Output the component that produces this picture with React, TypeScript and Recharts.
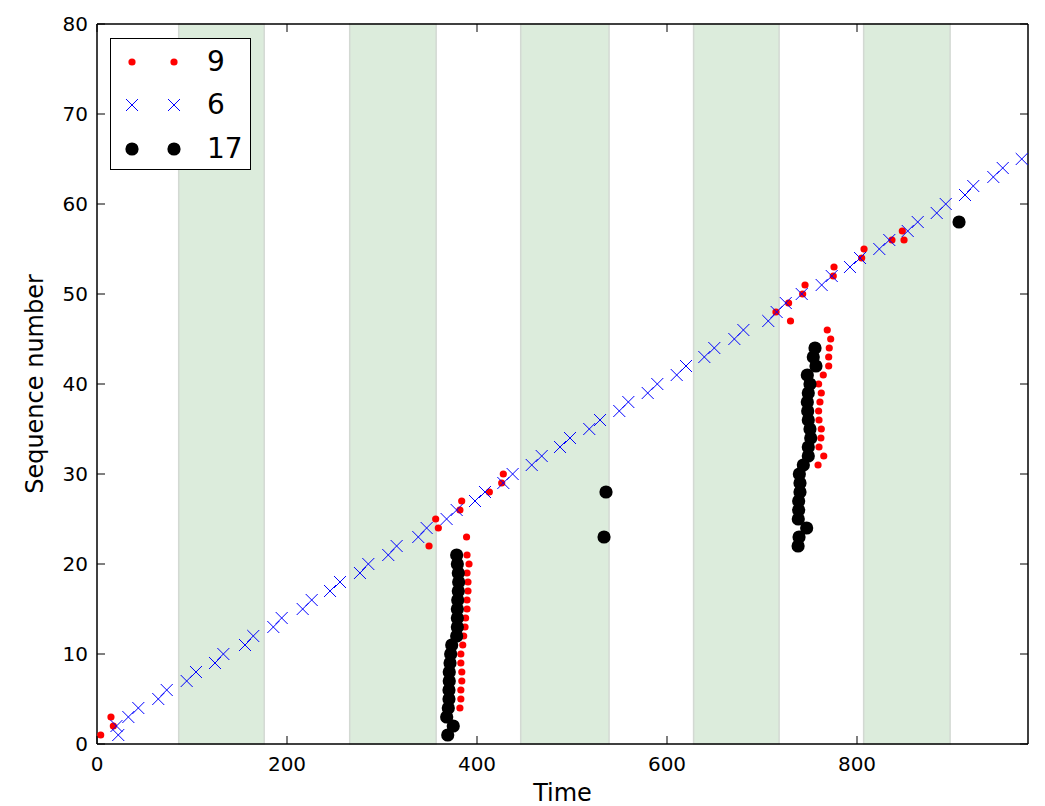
import React from 'react';
import { ScatterChart, Scatter, XAxis, YAxis, ReferenceArea, Legend } from 'recharts';

// shaded time windows (start, end)
const bands: [number, number][] = [
  [86, 176], [266, 357], [446, 539], [628, 718], [807, 898],
];

const xTicks = [0, 200, 400, 600, 800];
const yTicks = [0, 10, 20, 30, 40, 50, 60, 70, 80];

// flow "9" (red dots): [time, sequence]
const flow9: [number, number][] = [
  [3.9, 1], [14.7, 3], [17.2, 2],
  [349.5, 22], [359.3, 24], [356.5, 25], [382, 26], [383.9, 27], [413, 28], [426, 29], [427.7, 30],
  [389, 23], [389.5, 21], [391.6, 20], [389.5, 19], [390.5, 18], [390.5, 17], [389.5, 16], [389.5, 15],
  [388, 14], [387.4, 13], [386, 12], [385, 11], [383, 10], [383, 9], [384, 8], [384, 7], [383, 6],
  [383, 5], [382, 4],
  [768.7, 46], [772.3, 45], [770.8, 44], [770.2, 43], [770.2, 42], [764.5, 41], [759.6, 40], [762.4, 39],
  [761, 38], [759.6, 37], [760, 36], [762.4, 35], [762, 34], [760, 33], [765, 32], [759, 31],
  [714.7, 48], [730, 47], [728, 49], [742.8, 50], [745.3, 51], [775, 52], [775.8, 53], [804.9, 54],
  [807.4, 55], [836.8, 56], [847.7, 57], [849.5, 56],
];

// flow "6" (blue crosses)
const flow6: [number, number][] = [
  [22.4, 1], [20.5, 2], [33, 3], [43.5, 4], [64.5, 5], [73.4, 6], [94.4, 7], [104.2, 8],
  [124.2, 9], [133, 10], [155.8, 11], [164.5, 12], [185.6, 13], [194.4, 14], [216.5, 15], [226, 16],
  [245.3, 17], [255.8, 18], [276.8, 19], [285.6, 20], [306.6, 21], [315.4, 22], [338.2, 23], [347, 24],
  [368, 25], [378.6, 26], [397.9, 27], [408.4, 28], [427.7, 29], [437.5, 30], [457.6, 31], [468.1, 32],
  [487.4, 33], [497.9, 34], [518.2, 35], [529.5, 36], [549.8, 37], [559.3, 38], [579.7, 39], [589.8, 40],
  [610.2, 41], [620, 42], [639.3, 43], [649.8, 44], [670.9, 45], [680.4, 46], [706.6, 47], [715.4, 48],
  [725, 49], [741.8, 50], [762.8, 51], [773.4, 52], [792.6, 53], [803.2, 54], [823.5, 55], [834, 56],
  [853.4, 57], [863.9, 58], [883.9, 59], [893.4, 60], [913.7, 61], [922.4, 62], [943.5, 63], [953.4, 64],
  [973.4, 65],
];

// flow "17" (black circles)
const flow17: [number, number][] = [
  [369.2, 1], [375, 2], [368.1, 3], [369.8, 4], [370.5, 5], [370.5, 6], [370.8, 7], [370.8, 8],
  [371.6, 9], [372.3, 10], [373.4, 11], [378.6, 12], [379.3, 13], [379.3, 14], [379.3, 15], [379.7, 16],
  [380.3, 17], [380.7, 18], [380.3, 19], [379.3, 20], [378.6, 21],
  [533.7, 23], [535.8, 28],
  [738, 22], [739, 23], [747, 24], [738.2, 25], [738.6, 26], [738.6, 27], [740, 28], [740, 29],
  [739.3, 30], [743.5, 31], [748.7, 32], [748.7, 33], [751.3, 34], [750.5, 35], [748.7, 36], [748.1, 37],
  [747.7, 38], [748.7, 39], [750.5, 40], [747.7, 41], [756.8, 42], [754, 43], [755.8, 44],
  [907.4, 58],
];

const toPoints = (arr: [number, number][]) => arr.map(([t, seq]) => ({ t, seq }));

const FONT = '"DejaVu Sans", sans-serif';

const RedDot = (p: any) => <circle cx={p.cx} cy={p.cy} r={3.6} fill="#ff0000" />;
const BlueCross = (p: any) => {
  const s = 6;
  return (
    <g stroke="#0000ff" strokeWidth={1}>
      <line x1={p.cx - s} y1={p.cy - s} x2={p.cx + s} y2={p.cy + s} />
      <line x1={p.cx - s} y1={p.cy + s} x2={p.cx + s} y2={p.cy - s} />
    </g>
  );
};
const BlackDot = (p: any) => <circle cx={p.cx} cy={p.cy} r={6.6} fill="#000000" />;

const BottomTick = ({ x, y, payload }: any) => (
  <g>
    <line x1={x} x2={x} y1={y} y2={y - 8} stroke="#000" strokeWidth={1} />
    <text x={x} y={y + 27} textAnchor="middle" fontSize={20} fontFamily={FONT} fill="#000">
      {payload.value}
    </text>
  </g>
);
const TopTick = ({ x, y }: any) => (
  <line x1={x} x2={x} y1={y} y2={y + 8} stroke="#000" strokeWidth={1} />
);
const LeftTick = ({ x, y, payload }: any) => (
  <g>
    <line x1={x} x2={x + 8} y1={y} y2={y} stroke="#000" strokeWidth={1} />
    <text x={x - 9} y={y} textAnchor="end" dominantBaseline="central" fontSize={20} fontFamily={FONT} fill="#000">
      {payload.value}
    </text>
  </g>
);
const RightTick = ({ x, y }: any) => (
  <line x1={x} x2={x - 8} y1={y} y2={y} stroke="#000" strokeWidth={1} />
);

const legendRows = [
  { name: '9', kind: 'red' },
  { name: '6', kind: 'blue' },
  { name: '17', kind: 'black' },
];

const LegendMarker = ({ kind, cx }: { kind: string; cx: number }) => {
  if (kind === 'red') return <RedDot cx={cx} cy={14} />;
  if (kind === 'blue') return <BlueCross cx={cx} cy={14} />;
  return <BlackDot cx={cx} cy={14} />;
};

const LegendBox = () => (
  <div
    style={{
      width: 139,
      height: 129,
      border: '1.5px solid #000',
      background: '#fff',
      boxSizing: 'content-box',
      fontFamily: FONT,
      paddingTop: 1,
    }}
  >
    {legendRows.map((r) => (
      <div key={r.name} style={{ display: 'flex', alignItems: 'center', height: 43.5 }}>
        <svg width={96} height={28} style={{ display: 'block', flex: 'none' }}>
          <LegendMarker kind={r.kind} cx={21} />
          <LegendMarker kind={r.kind} cx={63} />
        </svg>
        <span style={{ fontSize: 28, lineHeight: '28px', color: '#000' }}>{r.name}</span>
      </div>
    ))}
  </div>
);

const TimeLabel = (props: any) => {
  const vb = props.viewBox;
  return (
    <text x={vb.x + vb.width / 2} y={vb.y + 57} textAnchor="middle" fontSize={24} fontFamily={FONT} fill="#000">
      Time
    </text>
  );
};

const SeqLabel = (props: any) => {
  const vb = props.viewBox;
  const cx = vb.x + 35;
  const cy = vb.y + vb.height / 2;
  return (
    <text
      x={cx}
      y={cy}
      transform={`rotate(-90 ${cx} ${cy})`}
      textAnchor="middle"
      dominantBaseline="central"
      fontSize={24}
      fontFamily={FONT}
      fill="#000"
    >
      Sequence number
    </text>
  );
};

export default function App() {
  return (
    <div style={{ position: 'absolute', left: 0, top: 0, width: 1045, height: 806, background: '#fff' }}>
      <ScatterChart width={1045} height={806} margin={{ top: 23, right: 16, bottom: 0, left: 0 }}>
        <XAxis
          type="number"
          dataKey="t"
          domain={[0, 980]}
          ticks={xTicks}
          height={62}
          tickSize={0}
          tickMargin={0}
          tickLine={false}
          tick={<BottomTick />}
          axisLine={{ stroke: '#000', strokeWidth: 1.5 }}
          allowDataOverflow
          label={TimeLabel}
        />
        <XAxis
          xAxisId="top"
          orientation="top"
          type="number"
          dataKey="t"
          domain={[0, 980]}
          ticks={xTicks}
          height={1}
          tickSize={0}
          tickMargin={0}
          tickLine={false}
          tick={<TopTick />}
          axisLine={{ stroke: '#000', strokeWidth: 1.5 }}
          allowDataOverflow
        />
        <YAxis
          type="number"
          dataKey="seq"
          domain={[0, 80]}
          ticks={yTicks}
          width={97}
          tickSize={0}
          tickMargin={0}
          tickLine={false}
          tick={<LeftTick />}
          axisLine={{ stroke: '#000', strokeWidth: 1.5 }}
          allowDataOverflow
          label={SeqLabel}
        />
        <YAxis
          yAxisId="right"
          orientation="right"
          type="number"
          dataKey="seq"
          domain={[0, 80]}
          ticks={yTicks}
          width={1}
          tickSize={0}
          tickMargin={0}
          tickLine={false}
          tick={<RightTick />}
          axisLine={{ stroke: '#000', strokeWidth: 1.5 }}
          allowDataOverflow
        />
        {bands.map(([a, b]) => (
          <ReferenceArea
            key={a}
            x1={a}
            x2={b}
            y1={0}
            y2={80}
            fill="#dcecdc"
            fillOpacity={1}
            stroke="#d3d9d3"
            strokeWidth={1.5}
          />
        ))}
        <Scatter name="9" data={toPoints(flow9)} shape={RedDot} isAnimationActive={false} />
        <Scatter name="6" data={toPoints(flow6)} shape={BlueCross} isAnimationActive={false} />
        <Scatter name="17" data={toPoints(flow17)} shape={BlackDot} isAnimationActive={false} />
        <Legend
          layout="horizontal"
          verticalAlign="middle"
          align="center"
          content={LegendBox}
          wrapperStyle={{ top: 38, left: 110, width: 142, height: 140 }}
        />
      </ScatterChart>
    </div>
  );
}
